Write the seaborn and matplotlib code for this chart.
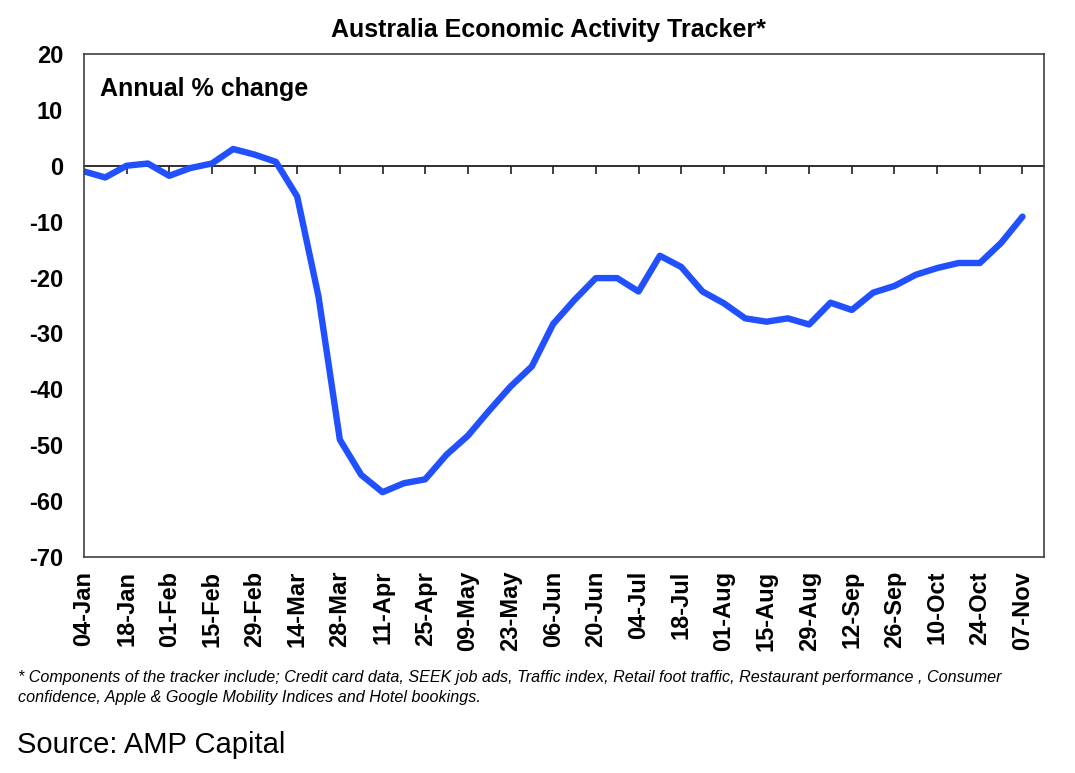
import numpy as np
import pandas as pd
import matplotlib
matplotlib.use("Agg")
import matplotlib.pyplot as plt
import seaborn as sns

# weekly observations, 04-Jan-2020 to 07-Nov-2020
weeks = pd.date_range("2020-01-04", "2020-11-07", freq="7D")
week_labels = [d.strftime("%d-%b") for d in weeks]
activity = [
    -1.0, -2.1, 0.0, 0.4, -1.8, -0.4, 0.4, 3.0, 2.0, 0.7,
    -5.5, -23.4, -49.0, -55.3, -58.4, -56.8, -56.1, -51.7, -48.3, -43.8,
    -39.5, -35.9, -28.3, -24.0, -20.1, -20.1, -22.5, -16.1, -18.1, -22.5,
    -24.6, -27.3, -27.9, -27.3, -28.4, -24.5, -25.8, -22.7, -21.5, -19.5,
    -18.3, -17.4, -17.4, -13.8, -9.1,
]
y_ticks = [20, 10, 0, -10, -20, -30, -40, -50, -60, -70]

TITLE = "Australia Economic Activity Tracker*"
SUBTITLE = "Annual % change"
FOOTNOTE = ("* Components of the tracker include; Credit card data, SEEK job ads, Traffic index, "
            "Retail foot traffic, Restaurant performance , Consumer\n"
            "confidence, Apple & Google Mobility Indices and Hotel bookings.")
SOURCE = "Source: AMP Capital"

sns.set_theme(style="white")
plt.rcParams["font.family"] = ["Liberation Sans", "DejaVu Sans"]
for key in ("text.color", "xtick.color", "ytick.color", "axes.labelcolor"):
    plt.rcParams[key] = "black"

df = pd.DataFrame({"idx": np.arange(len(activity)), "value": activity})

fig = plt.figure(figsize=(10.75, 7.73), dpi=100)
ax = fig.add_axes([0.078, 0.2794, 0.893, 0.6508])

sns.lineplot(data=df, x="idx", y="value", ax=ax, color="#2150FF", linewidth=4.6,
             solid_capstyle="round", solid_joinstyle="round")

ax.set_xlim(0, 45)
ax.set_ylim(-70, 20)
ax.set_yticks(y_ticks)
ax.set_yticklabels([str(v) for v in y_ticks], fontsize=17, fontweight="bold")
ax.tick_params(axis="y", length=0, pad=15)

tick_pos = list(range(0, len(week_labels), 2))
ax.set_xticks(tick_pos)
ax.set_xticklabels([week_labels[i] for i in tick_pos], rotation=90, fontsize=17,
                   fontweight="bold", va="top", ha="center")
ax.tick_params(axis="x", length=0, pad=10)

ax.set_xlabel("")
ax.set_ylabel("")
for sp in ax.spines.values():
    sp.set_visible(True)
    sp.set_color("#404040")
    sp.set_linewidth(1.2)

# zero line carrying the category tick marks
sec = ax.secondary_xaxis(70 / 90)
sec.set_xticks(tick_pos[1:])
sec.set_xticklabels([])
sec.tick_params(axis="x", direction="in", length=6, width=1.2, color="#202020")
sec.spines["top"].set_color("#202020")
sec.spines["top"].set_linewidth(1.3)
sec.spines["bottom"].set_visible(False)

ax.text(0.017, 0.955, SUBTITLE, transform=ax.transAxes, fontsize=18,
        fontweight="bold", va="top", ha="left")

fig.text(0.51, 0.961, TITLE, fontsize=18, fontweight="bold", ha="center", va="center")
fig.text(0.017, 0.088, FOOTNOTE, fontsize=11.6, style="italic", ha="left", va="bottom",
         linespacing=1.45)
fig.text(0.016, 0.036, SOURCE, fontsize=21, ha="left", va="center")

fig.savefig("out.png", dpi=100)
